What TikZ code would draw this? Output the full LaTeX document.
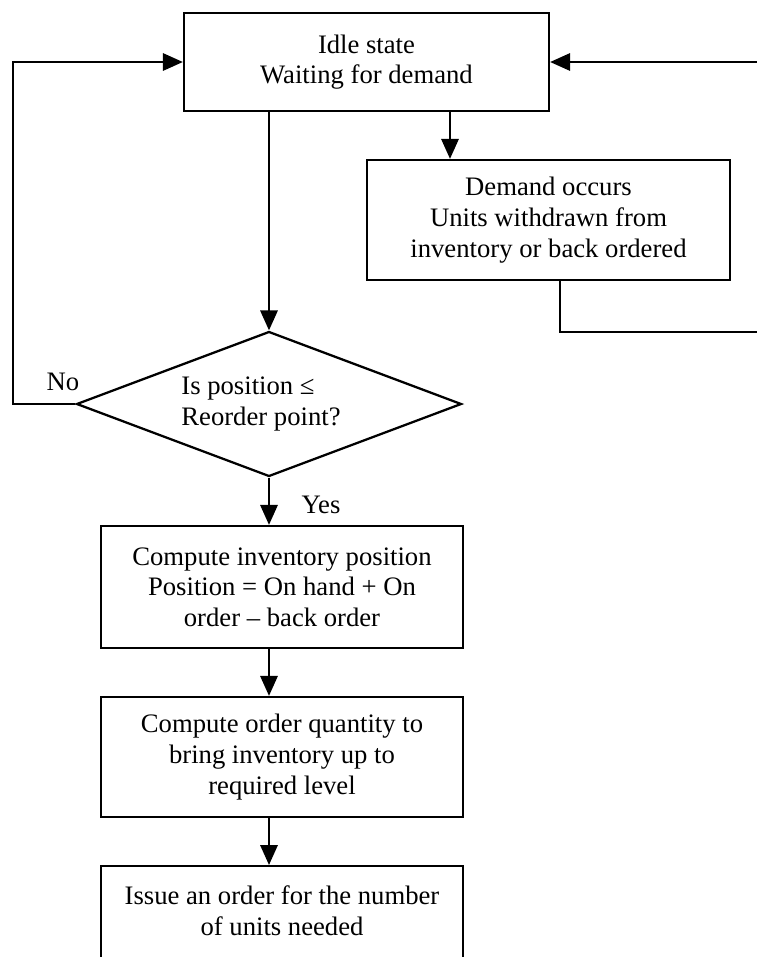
\documentclass[tikz,border=0pt]{standalone}
\usepackage{fontspec}
\setmainfont{Liberation Serif}
\usetikzlibrary{shapes.geometric,arrows.meta}
\begin{document}
\begin{tikzpicture}[x=0.75pt,y=-0.75pt,
  txt/.style={font=\fontsize{20}{23}\selectfont},
  proc/.style={txt, draw, line width=1.7pt, align=center, inner sep=0pt, minimum width=271.5pt, minimum height=90pt},
  decision/.style={txt, draw, diamond, aspect=2.655, line width=1.7pt, align=left, inner sep=0pt, minimum width=288.75pt, minimum height=108.75pt},
  arr/.style={line width=1.7pt, -{Triangle[length=15pt,width=13pt]}},
  lbl/.style={txt, inner sep=0pt}]
\useasboundingbox (0,0) rectangle (757,957);
\clip (0,0) rectangle (757,957);

\node[proc, minimum width=273.75pt, minimum height=73.5pt] (idle) at (366.5,62) {Idle state\\Waiting for demand};
\node[proc, minimum width=272.25pt] (demand) at (548.5,220) {Demand occurs\\Units withdrawn from\\inventory or back ordered};
\node[decision] (dec) at (269,404) {Is position ≤\\Reorder point?\hspace*{12pt}};
\node[proc, minimum height=91.5pt] (pos) at (282,587) {Compute inventory position\\Position = On hand + On\\order – back order};
\node[proc] (qty) at (282,757) {Compute order quantity to\\bring inventory up to\\required level};
\node[proc, anchor=north] (issue) at (282,865) {Issue an order for the number\\of units needed\\\mbox{}};

\node[lbl] (no) at (63,382) {No};
\node[lbl] (yes) at (321,505) {Yes};

\coordinate (dx) at (450,0);
\coordinate (bx) at (560,0);
\coordinate (rr) at (800,332);
\coordinate (lx) at (13,404);

\draw[arr] (idle.south -| dec.north) -- (dec.north);
\draw[arr] (idle.south -| dx) -- (demand.north -| dx);
\draw[arr] (demand.south -| bx) |- (rr) |- (idle.east);
\draw[arr] (dec.west) -- (lx) |- (idle.west);
\draw[arr] (dec.south) -- (pos.north -| dec.south);
\draw[arr] (pos.south -| dec.south) -- (qty.north -| dec.south);
\draw[arr] (qty.south -| dec.south) -- (issue.north -| dec.south);
\end{tikzpicture}
\end{document}
